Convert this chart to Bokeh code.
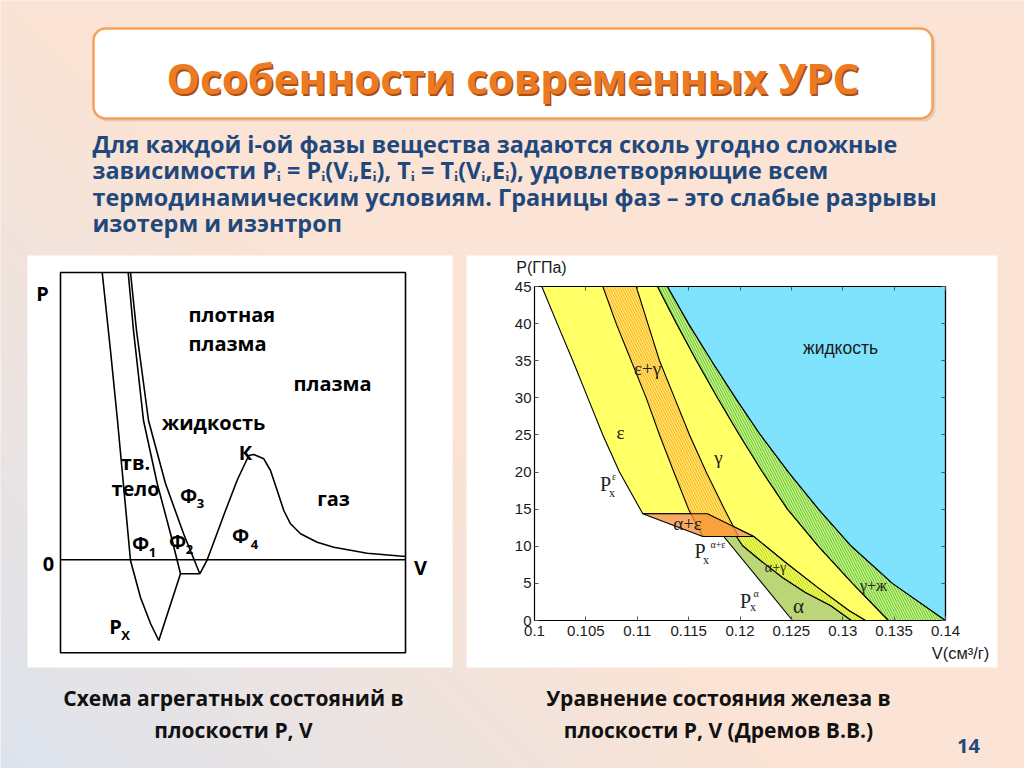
import numpy as np
from bokeh.plotting import figure
from bokeh.models import Range1d, LinearAxis, FixedTicker
from bokeh.core.properties import value
from bokeh.embed import file_html
from bokeh.resources import INLINE

# ======================= DATA =======================
# Right chart: iron equation of state, V (cm^3/g) vs P (GPa)
x_ticks = [0.1, 0.105, 0.11, 0.115, 0.12, 0.125, 0.13, 0.135, 0.14]
x_tick_labels = ["0.1", "0.105", "0.11", "0.115", "0.12", "0.125", "0.13", "0.135", "0.14"]
y_ticks = [0, 5, 10, 15, 20, 25, 30, 35, 40, 45]
y_tick_labels = ["0", "5", "10", "15", "20", "25", "30", "35", "40", "45"]

# cold curve Px^eps (left edge of the eps phase)
px_eps_v = [0.10071, 0.10221, 0.10373, 0.10519, 0.10665, 0.10827, 0.11054]
px_eps_p = [45, 40, 35, 30, 25, 20, 14.38]
# alpha+eps region (cold curve Px^(a+e), plateau, triple line)
ae_v = [0.11054, 0.11684, 0.12134, 0.11638]
ae_p = [14.38, 14.38, 11.32, 11.32]
# eps+gamma band
eg_left_v = [0.10665, 0.10795, 0.10941, 0.11087, 0.11217, 0.11356, 0.11499, 0.11638]
eg_left_p = [45, 40, 35, 30, 25, 20, 15, 11.32]
eg_right_v = [0.10990, 0.11103, 0.11217, 0.11363, 0.11509, 0.11671, 0.11849, 0.11985]
eg_right_p = [45, 40, 35, 30, 25, 20, 15, 11.32]
# gamma / gamma+liquid boundary
gl_left_v = [0.11197, 0.11382, 0.11577, 0.11781, 0.11995, 0.12219, 0.12462, 0.12764, 0.13095, 0.13445]
gl_left_p = [45, 40, 35, 30, 25, 20, 15, 10, 5, 0]
# gamma+liquid / liquid boundary
liq_v = [0.11294, 0.11499, 0.11723, 0.11956, 0.12200, 0.12472, 0.12764, 0.13085, 0.13484, 0.14]
liq_p = [45, 40, 35, 30, 25, 20, 15, 10, 5, 0]
# alpha+gamma band
ag_up_v = [0.12134, 0.12459, 0.12751, 0.13059, 0.13221]
ag_up_p = [11.32, 7.64, 4.49, 1.35, 0]
ag_lo_v = [0.11966, 0.12024, 0.12200, 0.12414, 0.12637, 0.12881, 0.13085]
ag_lo_p = [11.32, 10.10, 8.08, 5.79, 3.77, 2.02, 0]
# cold curve Px^alpha
px_a_v = [0.11842, 0.12511]
px_a_p = [11.32, 0]

# Left schematic (arbitrary units V 0..100, P -32.4..100)
sch_box_v = [0, 100]
sch_box_p = [-32.37, 100]
sch_l1_v = [12.09, 14.49, 16.52, 18.41, 20.29, 23.19, 26.09, 28.49]
sch_l1_p = [100, 72.85, 48.49, 24.12, -0.24, -13.12, -22.17, -28.09]
sch_l2_v = [28.49, 34.78, 31.88, 28.03, 24.06, 21.16, 19.62]
sch_l2_p = [-28.09, -4.87, 9.15, 26.56, 48.49, 79.81, 100]
sch_l3_v = [34.78, 40.38, 35.65, 30.43, 25.51, 22.03, 20.29]
sch_l3_p = [-4.87, -4.87, 9.15, 26.56, 48.49, 79.81, 100]
sch_l4_v = [40.38, 42.52, 44.93, 47.83, 51.30, 54.58, 56.03, 58.93, 60.87, 62.81,
            64.72, 66.67, 69.57, 74.41, 79.22, 88.90, 100]
sch_l4_p = [-4.87, 0, 7.76, 17.16, 27.95, 36.30, 36.65, 35.15, 31.08, 24.12,
            17.16, 12.53, 9.05, 6.13, 4.39, 2.30, 1.15]

title_text = "Особенности современных УРС"
body_lines = [
    "Для каждой i-ой фазы вещества задаются сколь угодно сложные",
    "зависимости Pᵢ = Pᵢ(Vᵢ,Eᵢ), Tᵢ = Tᵢ(Vᵢ,Eᵢ), удовлетворяющие всем",
    "термодинамическим условиям. Границы фаз – это слабые разрывы",
    "изотерм и изэнтроп",
]
cap_left = ["Схема агрегатных состояний в", "плоскости P, V"]
cap_right = ["Уравнение состояния железа в", "плоскости P, V (Дремов В.В.)"]

# ======================= LAYOUT =======================
W, H = 1024, 768
p = figure(width=W, height=H, x_range=Range1d(0, W), y_range=Range1d(H, 0),
           output_backend="svg", toolbar_location=None, min_border=0,
           x_axis_type=None, y_axis_type=None)
p.outline_line_color = None
p.background_fill_color = "#fbe4d5"
p.border_fill_color = "#fbe4d5"


def lin_range(v0, p0, v1, p1, lo_px, hi_px):
    k = (v1 - v0) / (p1 - p0)
    return Range1d(v0 + (lo_px - p0) * k, v0 + (hi_px - p0) * k)


# chart frame: V 0.1..0.14 -> px 534..945 ; P 0..45 -> px 620..286
CX0, CX1, CY0, CY1 = 534, 945, 620, 286
# schematic box: V 0..100 -> px 60..405 ; P 0..100 -> px 559.3..272
SX0, SX1, SY0, SY1 = 60, 405, 559.3, 272
p.extra_x_ranges = {
    "cx": lin_range(0.1, CX0, 0.14, CX1, 0, W),
    "sx": lin_range(0, SX0, 100, SX1, 0, W),
}
p.extra_y_ranges = {
    "cy": lin_range(0, CY0, 45, CY1, H, 0),
    "sy": lin_range(0, SY0, 100, SY1, H, 0),
    "bgy": Range1d(0, 1),
}

# background gradient (bluish bottom-left -> peach)
ny, nx = 192, 256
yy, xx = np.mgrid[0:ny, 0:nx]
s = ((xx + 0.5) / nx * 1024 + (yy + 0.5) / ny * 768) / 1792.0
u = np.clip(s * 2.3, 0, 1)[..., None]
blue = np.array([221, 227, 238])
peach = np.array([251, 228, 213])
rgb = blue * (1 - u) + peach * u
img = np.empty((ny, nx, 4), dtype=np.uint8)
img[..., :3] = rgb.astype(np.uint8)
img[..., 3] = 255
p.image_rgba(image=[img.view(np.uint32).reshape(ny, nx)], x=0, y=0, dw=W, dh=1, y_range_name="bgy")

# white panels
p.quad(left=[27, 466], right=[452, 997], top=[255, 255], bottom=[667, 667],
       fill_color="white", line_color=None)

# title box
p.quad(left=[96], right=[935], top=[31], bottom=[121], fill_color="#b79b86", fill_alpha=0.3,
       line_color=None, border_radius=12)
p.quad(left=[93], right=[932], top=[28], bottom=[118], fill_color="white",
       line_color="#f6a15a", line_width=2.5, border_radius=12)


def texts(xs, ys, ts, size, color="black", font="Open Sans", style="bold", align="center",
          baseline="middle", xr="default", yr="default"):
    p.text(x=xs, y=ys, text=ts, text_font=value(font), text_font_size=size, text_color=color,
           text_font_style=style, text_align=align, text_baseline=baseline,
           x_range_name=xr, y_range_name=yr)


texts([514], [78.5], [title_text], "42px", color="#a84f12")
texts([512.5], [77], [title_text], "42px", color="#ec7a22")

texts([92] * 4, [143, 169.5, 196, 222], body_lines, "23.4px", color="#1f497d", align="left")

texts([233, 233], [697, 729], cap_left, "21px", color="#111111")
texts([718, 718], [697, 729], cap_right, "21px", color="#111111")
texts([968], [745], ["14"], "20px", color="#1f497d")

# ---------------- left schematic ----------------
sk = dict(x_range_name="sx", y_range_name="sy")
p.quad(left=[sch_box_v[0]], right=[sch_box_v[1]], bottom=[sch_box_p[0]], top=[sch_box_p[1]],
       fill_color=None, line_color="black", line_width=1.6, **sk)
p.line(sch_box_v, [0, 0], line_color="black", line_width=1.6, **sk)
for lv, lp in [(sch_l1_v, sch_l1_p), (sch_l2_v, sch_l2_p), (sch_l3_v, sch_l3_p), (sch_l4_v, sch_l4_p)]:
    p.line(lv, lp, line_color="black", line_width=1.6, **sk)

texts([42, 48, 420], [293, 563, 567], ["P", "0", "V"], "20px")
texts([188, 188], [314, 343], ["плотная", "плазма"], "20px", align="left")
texts([332, 213, 245, 135, 135, 333], [383, 422, 452, 462, 488, 498],
      ["плазма", "жидкость", "К", "тв.", "тело", "газ"], "20px")
texts([188, 140, 177, 240, 115], [495, 543, 541, 535, 626], ["Ф", "Ф", "Ф", "Ф", "P"], "20px")
texts([200, 152, 189, 254, 125], [503, 551.5, 548.5, 544, 634.5], ["3", "1", "2", "4", "X"], "13px")

# ---------------- right chart ----------------
ck = dict(x_range_name="cx", y_range_name="cy")
LC, LW = "black", 1.1

# yellow (eps and gamma)
yel_v = px_eps_v + [ae_v[1], ae_v[2]] + ag_up_v[1:] + gl_left_v[::-1]
yel_p = px_eps_p + [ae_p[1], ae_p[2]] + ag_up_p[1:] + gl_left_p[::-1]
p.patch(yel_v, yel_p, fill_color="#ffff66", line_color=LC, line_width=LW, **ck)

# eps+gamma (hatched orange)
p.patch(eg_left_v + eg_right_v[::-1], eg_left_p + eg_right_p[::-1], fill_color="#ff9f1a",
        hatch_pattern="\\", hatch_color="#ffe866", hatch_scale=5, hatch_weight=1.6,
        line_color=LC, line_width=LW, **ck)

# alpha+eps
p.patch(ae_v, ae_p, fill_color="#f7933a", fill_alpha=0.78, line_color=LC, line_width=LW, **ck)

# alpha
p.patch(px_a_v + ag_lo_v[::-1], px_a_p + ag_lo_p[::-1], fill_color="#b4d36a", fill_alpha=0.92,
        line_color=LC, line_width=LW, **ck)

# alpha+gamma (hatched yellow-green)
p.patch(ag_lo_v + ag_up_v[::-1], ag_lo_p + ag_up_p[::-1], fill_color="#b6d80a",
        hatch_pattern="\\", hatch_color="#f0f860", hatch_scale=5, hatch_weight=1.6,
        line_color=LC, line_width=LW, **ck)

# gamma+liquid (hatched green)
p.patch(gl_left_v + liq_v[::-1], gl_left_p + liq_p[::-1], fill_color="#4fc035",
        hatch_pattern="\\", hatch_color="#c8f07c", hatch_scale=5, hatch_weight=1.6,
        line_color=LC, line_width=LW, **ck)

# liquid
p.patch(liq_v + [x_ticks[-1]], liq_p + [y_ticks[-1]], fill_color="#7fe3fd",
        line_color=LC, line_width=LW, **ck)

# frame
p.quad(left=[x_ticks[0]], right=[x_ticks[-1]], bottom=[y_ticks[0]], top=[y_ticks[-1]],
       fill_color=None, line_color="black", line_width=1.2, **ck)

ax_font = "Liberation Sans"
xax = LinearAxis(x_range_name="cx", y_range_name="cy", fixed_location=y_ticks[0],
                 bounds=(x_ticks[0], x_ticks[-1]), ticker=FixedTicker(ticks=x_ticks),
                 major_label_overrides=dict(zip(x_ticks, x_tick_labels)))
yax = LinearAxis(x_range_name="cx", y_range_name="cy", fixed_location=x_ticks[0],
                 bounds=(y_ticks[0], y_ticks[-1]), ticker=FixedTicker(ticks=y_ticks),
                 major_label_overrides=dict(zip(y_ticks, y_tick_labels)))
tax = LinearAxis(x_range_name="cx", y_range_name="cy", fixed_location=y_ticks[-1],
                 bounds=(x_ticks[0], x_ticks[-1]), ticker=FixedTicker(ticks=x_ticks))
rax = LinearAxis(x_range_name="cx", y_range_name="cy", fixed_location=x_ticks[-1],
                 bounds=(y_ticks[0], y_ticks[-1]), ticker=FixedTicker(ticks=y_ticks))
for ax in (xax, yax, tax, rax):
    ax.major_tick_in = 4
    ax.major_tick_out = 0
    ax.minor_tick_in = 0
    ax.minor_tick_out = 0
    ax.major_tick_line_color = "#555555"
    ax.axis_line_color = "black"
    ax.major_label_text_font = ax_font
    ax.major_label_text_font_size = "15px"
    ax.major_label_text_color = "#1a1a1a"
for ax in (tax, rax):
    ax.major_label_text_color = None
    ax.axis_line_color = None
xax.major_label_standoff = 5
yax.major_label_standoff = 3
p.add_layout(xax, "below")
p.add_layout(yax, "left")
p.add_layout(tax, "above")
p.add_layout(rax, "right")

# axis titles
p.text(x=[x_ticks[0]], y=[y_ticks[-1]], text=["P(ГПа)"], x_offset=7, y_offset=-19,
       text_font=value(ax_font), text_font_size="16px", text_color="#1a1a1a",
       text_align="center", text_baseline="middle", **ck)
p.text(x=[x_ticks[-1]], y=[y_ticks[0]], text=["V(см³/г)"], x_offset=15, y_offset=32,
       text_font=value(ax_font), text_font_size="16.5px", text_color="#1a1a1a",
       text_align="center", text_baseline="middle", **ck)

# region labels
serif = "Liberation Serif"
texts([647, 620, 718, 687], [368, 432, 457, 523], ["ε+γ", "ε", "γ", "α+ε"], "19px",
      font=serif, style="normal", color="#222222")
texts([775], [567], ["α+γ"], "14px", font=serif, style="normal", color="#222222")
texts([798], [605], ["α"], "21px", font=serif, style="normal", color="#222222")
texts([873], [585], ["γ+ж"], "16px", font=serif, style="normal", color="#222222")
texts([840], [347], ["жидкость"], "17.5px", font=ax_font, style="normal", color="#1a1a1a")
texts([605, 699.5, 745], [483, 550.5, 600], ["P", "P", "P"], "20px", font=serif,
      style="normal", color="#222222")
texts([613.5, 717.5, 755.5], [476, 544, 593], ["ε", "α+ε", "α"], "10px", font=serif,
      style="normal", color="#222222")
texts([611.5, 705.5, 752.5], [492, 559, 606.5], ["x", "x", "x"], "12px", font=serif,
      style="normal", color="#222222")

open("out.html", "w").write(file_html(p, INLINE))
